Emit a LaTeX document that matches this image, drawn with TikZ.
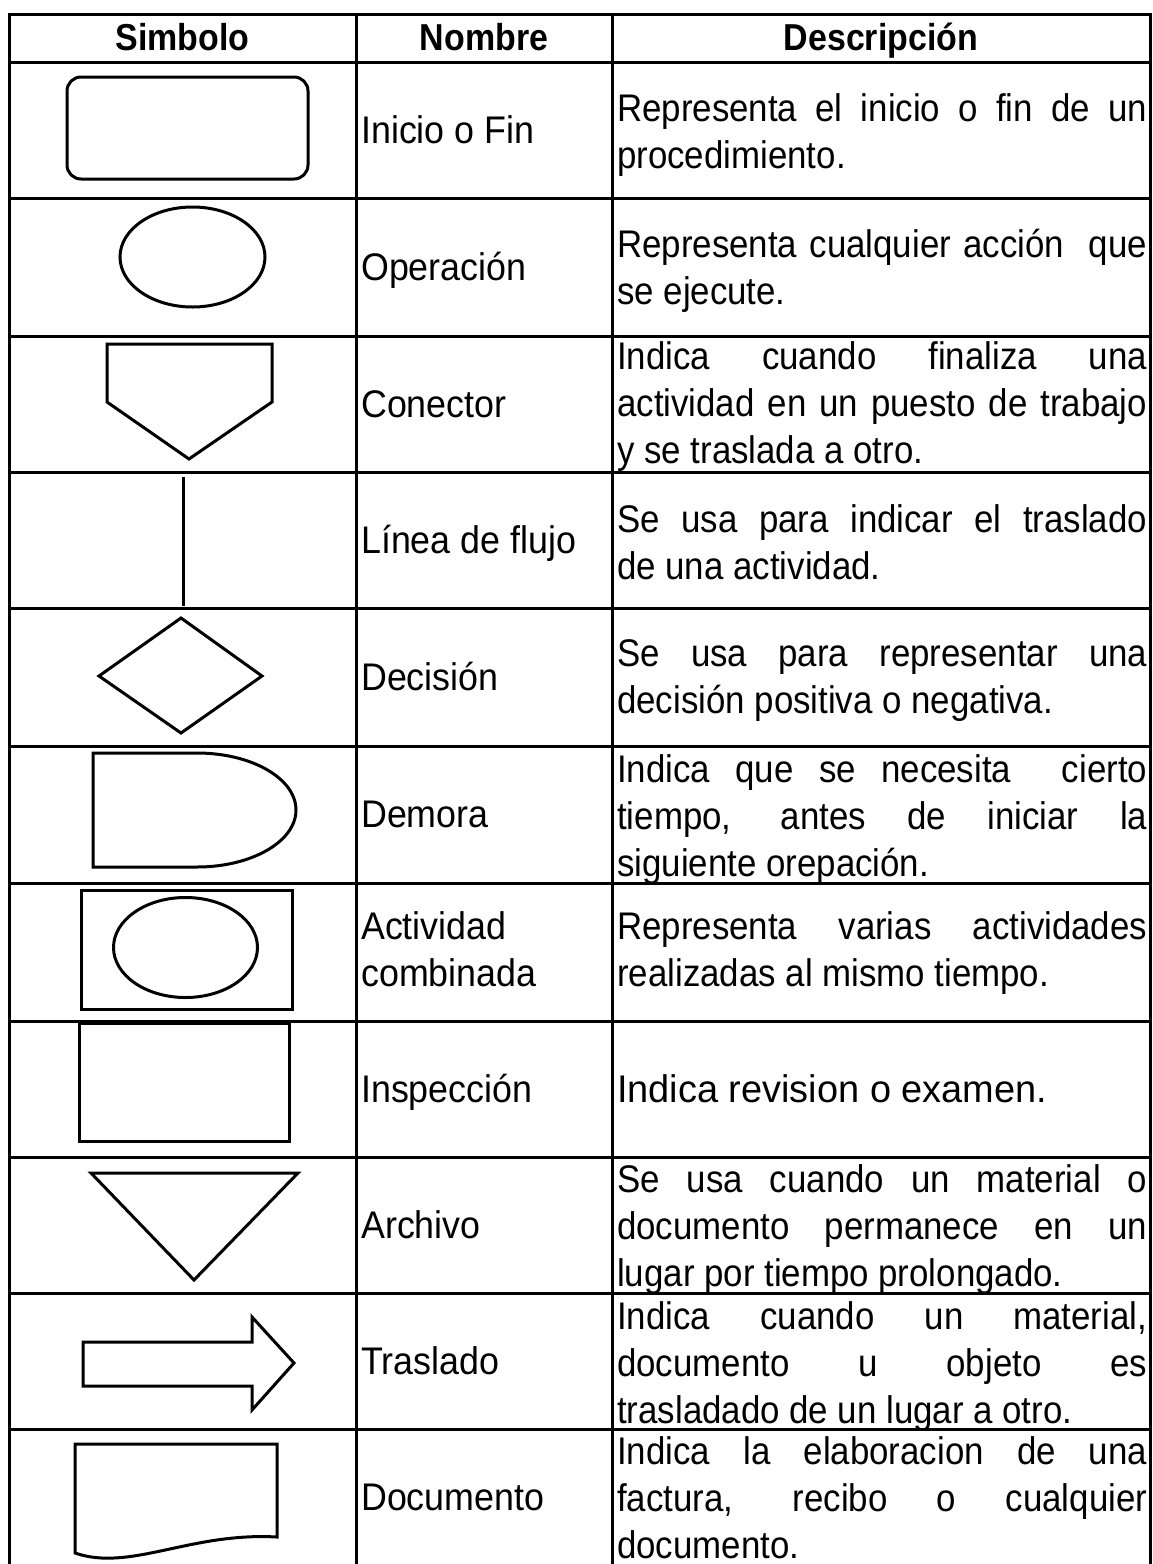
\documentclass[tikz,border=0pt]{standalone}
\usepackage{fontspec}
\setmainfont{Liberation Sans}[FakeStretch=0.905]
\newfontfamily\namefont{Liberation Sans}[FakeStretch=0.93]
\newfontfamily\plainfont{Liberation Sans}[FakeStretch=0.985]
\newlength{\dw}\setlength{\dw}{530pt}
\newcommand{\jl}[1]{\makebox[\dw][s]{\strut #1}}
\begin{document}
\begin{tikzpicture}[x=1pt,y=-1pt,
  gridline/.style={line width=3pt},
  shp/.style={line width=3pt, line join=miter},
  txt/.style={font=\fontsize{38.5}{47}\selectfont, inner sep=0pt, anchor=west, align=left},
  nametxt/.style={txt, font=\namefont\fontsize{38.5}{47}\selectfont},
  hdr/.style={font=\bfseries\fontsize{37.5}{47}\selectfont, inner sep=0pt, anchor=base}]
\useasboundingbox (0,0) rectangle (1152,1564);
\fill[white] (0,0) rectangle (1152,1564);

% header
\node[hdr] (h1) at (182.5,50) {Simbolo};
\node[hdr] (h2) at (484,50) {Nombre};
\node[hdr] (h3) at (881,50) {Descripción};

% names
\node[nametxt] (n1) at (361,134) {\strut Inicio o Fin};
\node[nametxt] (n2) at (361,271) {\strut Operación};
\node[nametxt] (n3) at (361,408) {\strut Conector};
\node[nametxt] (n4) at (361,544) {\strut Línea de flujo};
\node[nametxt] (n5) at (361,681) {\strut Decisión};
\node[nametxt] (n6) at (361,818) {\strut Demora};
\node[nametxt] (n7) at (361,954) {\strut Actividad\\\strut combinada};
\node[nametxt] (n8) at (361,1093) {\strut Inspección};
\node[nametxt] (n9) at (361,1229) {\strut Archivo};
\node[nametxt] (n10) at (361,1365) {\strut Traslado};
\node[nametxt] (n11) at (361,1501) {\strut Documento};

% descriptions (clipped to their cells)
\begin{scope}\clip (613.5,63.5) rectangle (1148.5,196.5);
\node[txt] (d1) at (617,136) {\jl{Representa el inicio o fin de un}\\\strut procedimiento.};
\end{scope}
\begin{scope}\clip (613.5,199.5) rectangle (1148.5,334.5);
\node[txt] (d2) at (617,272) {\jl{Representa cualquier acción \ que}\\\strut se ejecute.};
\end{scope}
\begin{scope}\clip (613.5,337.5) rectangle (1148.5,470.5);
\node[txt] (d3) at (617,407) {\jl{Indica cuando finaliza una}\\\jl{actividad en un puesto de trabajo}\\\strut y se traslada a otro.};
\end{scope}
\begin{scope}\clip (613.5,473.5) rectangle (1148.5,606.5);
\node[txt] (d4) at (617,547) {\jl{Se usa para indicar el traslado}\\\strut de una actividad.};
\end{scope}
\begin{scope}\clip (613.5,609.5) rectangle (1148.5,744.5);
\node[txt] (d5) at (617,681) {\jl{Se usa para representar una}\\\strut decisión positiva o negativa.};
\end{scope}
\begin{scope}\clip (613.5,747.5) rectangle (1148.5,881.5);
\node[txt] (d6) at (617,820.5) {\jl{Indica que se necesita \ cierto}\\\jl{tiempo, antes de iniciar la}\\\strut siguiente orepación.};
\end{scope}
\begin{scope}\clip (613.5,884.5) rectangle (1148.5,1019.5);
\node[txt] (d7) at (617,954) {\jl{Representa varias actividades}\\\strut realizadas al mismo tiempo.};
\end{scope}
\begin{scope}\clip (613.5,1022.5) rectangle (1148.5,1155.5);
\node[txt, font=\plainfont\fontsize{38.5}{47}\selectfont] (d8) at (617,1093) {\strut Indica revision o examen.};
\end{scope}
\begin{scope}\clip (613.5,1158.5) rectangle (1148.5,1291.5);
\node[txt] (d9) at (617,1230) {\jl{Se usa cuando un material o}\\\jl{documento permanece en un}\\\strut lugar por tiempo prolongado.};
\end{scope}
\begin{scope}\clip (613.5,1294.5) rectangle (1148.5,1427.5);
\node[txt] (d10) at (617,1367) {\jl{Indica cuando un material,}\\\jl{documento u objeto es}\\\strut trasladado de un lugar a otro.};
\end{scope}
\begin{scope}\clip (613.5,1430.5) rectangle (1148.5,1564);
\node[txt] (d11) at (617,1502) {\jl{Indica la elaboracion de una}\\\jl{factura, recibo o cualquier}\\\strut documento.};
\end{scope}

% grid
\draw[gridline] (9,1564) -- (9,14) -- (1150,14) -- (1150,1564);
\draw[gridline] (356,14) -- (356,1564);
\draw[gridline] (612,14) -- (612,1564);
\foreach \yy in {62,198,336,472,608,746,883,1021,1157,1293,1429}
  \draw[gridline] (9,\yy) -- (1150,\yy);

% symbols
\draw[shp, rounded corners=14pt] (67,77) rectangle (308,179);
\draw[shp] (192.5,257) ellipse [x radius=72.5pt, y radius=50pt];
\draw[shp] (107,344) -- (272,344) -- (272,402) -- (189,459) -- (107,402) -- cycle;
\draw[shp] (183,477) -- (183,606);
\draw[shp] (181,618) -- (262,676) -- (181,733) -- (99,676) -- cycle;
\draw[shp] (93,867) -- (93,753) -- (197,753) arc[start angle=90, end angle=-90, x radius=99pt, y radius=57pt] -- cycle;
\draw[shp] (81,890) rectangle (292,1009);
\draw[shp] (185.5,947.5) ellipse [x radius=72pt, y radius=50pt];
\draw[shp] (79,1023) rectangle (289,1141);
\draw[shp] (91,1173) -- (298,1173) -- (194,1280) -- cycle;
\draw[shp] (83,1342) -- (252,1342) -- (252,1317) -- (294,1363) -- (252,1410) -- (252,1386) -- (83,1386) -- cycle;
\draw[shp] (75,1553) -- (75,1444) -- (277,1444) -- (277,1537) .. controls (190,1532) and (130,1572) .. (75,1553) -- cycle;
\end{tikzpicture}
\end{document}
